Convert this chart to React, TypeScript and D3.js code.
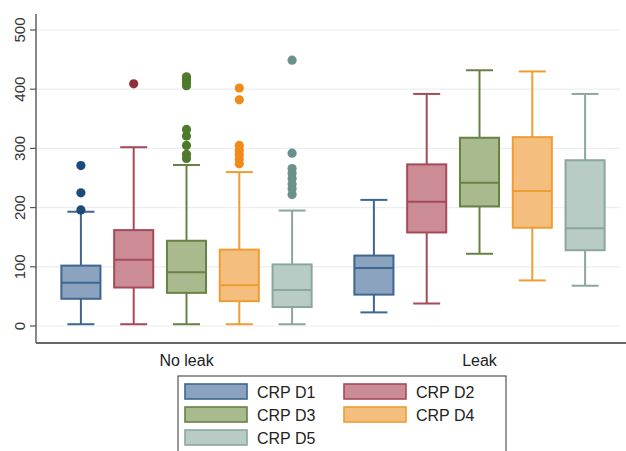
import React from "react";
import * as d3 from "d3";

// groups and series
const groups = ["No leak", "Leak"];
const series = ["CRP D1", "CRP D2", "CRP D3", "CRP D4", "CRP D5"];

// box stats per series: [low whisker, q1, median, q3, high whisker]
const noLeakStats = [
  [3, 46, 73, 102, 193],
  [3, 65, 112, 162, 302],
  [3, 56, 91, 144, 272],
  [3, 42, 69, 129, 260],
  [3, 32, 61, 104, 195],
];
const leakStats = [
  [23, 53, 98, 119, 213],
  [38, 158, 210, 273, 392],
  [122, 202, 242, 318, 432],
  [77, 166, 228, 319, 430],
  [68, 128, 165, 280, 392],
];

// outliers (No leak only)
const noLeakOutliers = [
  [271, 225, 196],
  [409],
  [421, 416, 411, 406, 332, 321, 305, 290, 283],
  [402, 382, 305, 297, 290, 282, 274],
  [449, 292, 266, 258, 249, 240, 232, 222],
];

const yTicks = [0, 100, 200, 300, 400, 500];

const fills = ["#8ca3c0", "#cb8c95", "#a9bb8e", "#f4bf7e", "#b8cbc5"];
const strokes = ["#3e6690", "#a64a58", "#678244", "#ef9d33", "#8ba69e"];
const dotColors = ["#1d4a78", "#8f2f3c", "#4e7a2b", "#f08a18", "#6b928a"];

const W = 626;
const H = 451;

export default function App() {
  const y = d3.scaleLinear().domain([0, 500]).range([326, 30]);
  const x = d3.scaleBand().domain(groups).range([40, 626]);
  const xi = d3
    .scaleBand()
    .domain(series)
    .range([-132, 132])
    .paddingInner(0.26)
    .paddingOuter(0.13);
  const bw = xi.bandwidth();
  const capW = 27;
  const axisLeft = 36;
  const axisBottom = 343;
  const statsByGroup = [noLeakStats, leakStats];

  return (
    <svg
      width={W}
      height={H}
      style={{ position: "absolute", left: 0, top: 0, background: "#fff" }}
      fontFamily="Liberation Sans, Arial, sans-serif"
    >
      {/* grid */}
      {yTicks.map((t) => (
        <line key={t} x1={axisLeft} x2={620} y1={y(t)} y2={y(t)} stroke="#e9eef2" strokeWidth={1.2} />
      ))}
      {/* axes */}
      <line x1={axisLeft} x2={axisLeft} y1={14} y2={axisBottom} stroke="#555" strokeWidth={1.4} />
      <line x1={axisLeft} x2={626} y1={axisBottom} y2={axisBottom} stroke="#666" strokeWidth={2} />
      {yTicks.map((t) => (
        <g key={t}>
          <line x1={30} x2={axisLeft} y1={y(t)} y2={y(t)} stroke="#555" strokeWidth={1.2} />
          <text
            transform={`translate(25,${y(t)}) rotate(-90)`}
            textAnchor="middle"
            fontSize={15}
            fill="#333"
          >
            {t}
          </text>
        </g>
      ))}
      {groups.map((g) => (
        <text
          key={g}
          x={(x(g) ?? 0) + x.bandwidth() / 2}
          y={366}
          textAnchor="middle"
          fontSize={16}
          fill="#222"
        >
          {g}
        </text>
      ))}
      {/* boxes */}
      {groups.map((g, gi) =>
        series.map((s, si) => {
          const [lo, q1, med, q3, hi] = statsByGroup[gi][si];
          const cx = (x(g) ?? 0) + x.bandwidth() / 2 + (xi(s) ?? 0) + bw / 2;
          const outs = gi === 0 ? noLeakOutliers[si] : [];
          return (
            <g key={g + s}>
              <line x1={cx} x2={cx} y1={y(hi)} y2={y(q3)} stroke={strokes[si]} strokeWidth={2} />
              <line x1={cx} x2={cx} y1={y(q1)} y2={y(lo)} stroke={strokes[si]} strokeWidth={2} />
              <line x1={cx - capW / 2} x2={cx + capW / 2} y1={y(hi)} y2={y(hi)} stroke={strokes[si]} strokeWidth={2} />
              <line x1={cx - capW / 2} x2={cx + capW / 2} y1={y(lo)} y2={y(lo)} stroke={strokes[si]} strokeWidth={2} />
              <rect
                x={cx - bw / 2}
                y={y(q3)}
                width={bw}
                height={y(q1) - y(q3)}
                fill={fills[si]}
                stroke={strokes[si]}
                strokeWidth={2}
              />
              <line x1={cx - bw / 2} x2={cx + bw / 2} y1={y(med)} y2={y(med)} stroke={strokes[si]} strokeWidth={2} />
              {outs.map((v, k) => (
                <circle key={k} cx={cx} cy={y(v)} r={4.6} fill={dotColors[si]} />
              ))}
            </g>
          );
        })
      )}
      {/* legend */}
      <rect x={178} y={376} width={328} height={80} fill="#fff" stroke="#555" strokeWidth={1.2} />
      {series.map((s, i) => {
        const col = i % 2;
        const row = Math.floor(i / 2);
        const lx = 185 + col * 159;
        const ly = 384 + row * 23;
        return (
          <g key={s}>
            <rect x={lx} y={ly} width={62} height={15} fill={fills[i]} stroke={strokes[i]} strokeWidth={1.6} />
            <text x={lx + 72} y={ly + 13.5} fontSize={16} fill="#222">
              {s}
            </text>
          </g>
        );
      })}
    </svg>
  );
}
